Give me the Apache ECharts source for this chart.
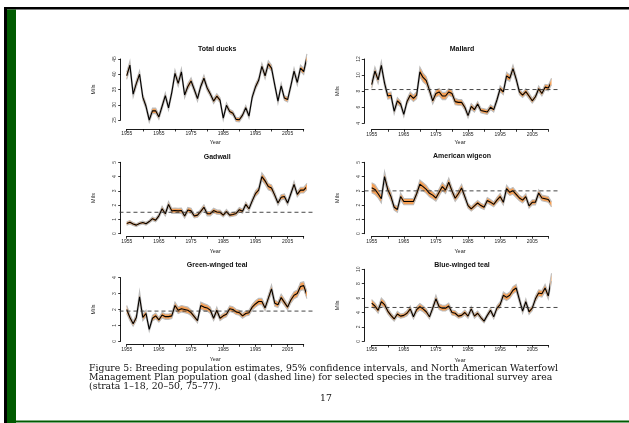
<!DOCTYPE html>
<html><head><meta charset="utf-8">
<script src="https://cdn.jsdelivr.net/npm/echarts@6/dist/echarts.min.js"></script>
<style>html,body{margin:0;padding:0;background:#fff}#c{width:629px;height:423px}</style>
</head><body><div id="c"></div>
<script>
const years = [1955,1956,1957,1958,1959,1960,1961,1962,1963,1964,
 1965,1966,1967,1968,1969,1970,1971,1972,1973,1974,
 1975,1976,1977,1978,1979,1980,1981,1982,1983,1984,
 1985,1986,1987,1988,1989,1990,1991,1992,1993,1994,
 1995,1996,1997,1998,1999,2000,2001,2002,2003,2004,
 2005,2006,2007,2008,2009,2010,2011];

const totalDucks = [39.5,43.0,33.5,37.0,40.0,32.5,29.5,25.0,28.0,28.0,
 26.0,29.5,33.0,29.0,34.0,40.3,37.0,40.8,33.2,36.0,
 37.8,35.0,32.0,36.0,38.7,35.5,33.5,31.2,32.8,31.5,
 25.6,29.8,27.8,27.2,25.2,25.1,26.6,29.0,26.3,32.5,
 35.8,38.0,42.6,39.5,43.4,42.0,36.5,31.2,36.2,32.2,
 31.7,36.2,41.0,37.3,42.0,40.9,45.6];
const totalDucksHW = [1.2,1.3,1.0,1.1,1.1,1.0,0.9,0.8,0.9,0.9,
 0.8,0.9,0.9,0.8,0.9,1.1,1.0,1.1,0.9,1.0,
 1.0,0.9,0.9,0.9,1.0,0.9,0.8,0.8,0.8,0.8,
 0.7,0.8,0.7,0.7,0.7,0.7,0.7,0.8,0.7,0.8,
 0.9,0.9,1.0,1.0,1.0,1.0,0.9,0.8,0.9,0.8,
 0.8,0.9,1.0,0.9,1.0,1.0,1.1];

const mallard = [8.8,10.5,9.4,11.2,9.0,7.4,7.5,5.5,6.8,6.4,
 5.1,6.7,7.5,7.1,7.5,10.4,9.7,9.3,8.1,6.8,
 7.7,7.9,7.4,7.4,7.9,7.7,6.7,6.6,6.6,6.0,
 4.96,6.1,5.7,6.4,5.6,5.5,5.4,6.0,5.7,6.9,
 8.3,7.9,9.9,9.6,10.8,9.5,7.9,7.5,7.95,7.4,
 6.8,7.3,8.3,7.7,8.5,8.4,9.2];
const mallardHW = [0.45,0.5,0.45,0.5,0.45,0.4,0.4,0.35,0.4,0.35,
 0.3,0.35,0.4,0.4,0.45,0.6,0.55,0.5,0.45,0.4,
 0.45,0.45,0.45,0.45,0.4,0.4,0.4,0.35,0.35,0.35,
 0.3,0.35,0.3,0.3,0.3,0.3,0.3,0.3,0.3,0.35,
 0.35,0.35,0.45,0.4,0.45,0.4,0.35,0.3,0.35,0.35,
 0.3,0.3,0.35,0.3,0.35,0.35,0.4];

const gadwall = [0.72,0.80,0.68,0.60,0.72,0.78,0.70,0.85,1.05,0.95,
 1.25,1.75,1.40,2.05,1.60,1.62,1.60,1.62,1.24,1.66,
 1.60,1.24,1.30,1.56,1.85,1.40,1.40,1.62,1.52,1.50,
 1.30,1.55,1.30,1.35,1.42,1.68,1.57,2.05,1.75,2.30,
 2.80,3.05,4.00,3.70,3.30,3.20,2.70,2.15,2.55,2.60,
 2.15,2.80,3.45,2.75,3.05,3.05,3.30];
const gadwallHW = [0.12,0.12,0.1,0.1,0.1,0.1,0.1,0.1,0.12,0.12,
 0.14,0.18,0.16,0.2,0.18,0.18,0.18,0.18,0.15,0.18,
 0.18,0.14,0.14,0.16,0.18,0.15,0.15,0.16,0.15,0.15,
 0.13,0.15,0.13,0.13,0.14,0.15,0.14,0.17,0.15,0.18,
 0.2,0.22,0.26,0.25,0.22,0.22,0.2,0.16,0.18,0.18,
 0.15,0.18,0.22,0.18,0.2,0.2,0.22];

const wigeon = [3.22,3.10,2.80,2.45,4.00,3.10,2.60,1.85,1.70,2.60,
 2.25,2.25,2.25,2.25,2.80,3.46,3.30,3.10,2.83,2.70,
 2.50,2.90,3.30,3.06,3.60,3.00,2.48,2.80,3.20,2.60,
 1.97,1.74,1.95,2.15,1.97,1.86,2.33,2.21,2.05,2.35,
 2.60,2.20,3.15,2.90,3.00,2.75,2.50,2.35,2.60,1.95,
 2.20,2.20,2.85,2.50,2.45,2.40,2.05];
const wigeonHW = [0.35,0.35,0.3,0.3,0.35,0.3,0.3,0.2,0.2,0.25,
 0.22,0.22,0.22,0.22,0.25,0.3,0.28,0.28,0.25,0.25,
 0.22,0.25,0.28,0.25,0.3,0.25,0.22,0.24,0.26,0.22,
 0.18,0.16,0.18,0.18,0.17,0.16,0.2,0.18,0.17,0.2,
 0.22,0.2,0.25,0.22,0.24,0.22,0.2,0.2,0.2,0.17,
 0.18,0.18,0.22,0.2,0.2,0.2,0.18];

const gwTeal = [2.0,1.5,1.1,1.5,2.8,1.5,1.75,0.75,1.45,1.6,
 1.35,1.65,1.55,1.55,1.6,2.25,1.95,2.05,2.0,1.95,
 1.8,1.55,1.3,2.25,2.15,2.1,1.95,1.45,1.95,1.45,
 1.6,1.7,2.05,2.0,1.85,1.8,1.6,1.75,1.8,2.15,
 2.35,2.5,2.5,2.1,2.7,3.3,2.4,2.3,2.75,2.45,
 2.15,2.6,2.9,3.0,3.45,3.5,2.9];
const gwTealHW = [0.25,0.2,0.15,0.2,0.35,0.2,0.2,0.12,0.18,0.18,
 0.15,0.18,0.17,0.17,0.17,0.22,0.2,0.2,0.2,0.2,
 0.18,0.16,0.14,0.22,0.22,0.2,0.2,0.15,0.2,0.15,
 0.15,0.16,0.18,0.18,0.17,0.16,0.15,0.16,0.16,0.18,
 0.2,0.2,0.2,0.18,0.22,0.25,0.2,0.18,0.22,0.2,
 0.18,0.2,0.22,0.22,0.25,0.25,0.22];

const bwTeal = [5.3,4.9,4.3,5.5,5.1,4.2,3.6,3.1,3.8,3.5,
 3.6,3.9,4.5,3.4,4.4,4.8,4.5,4.1,3.4,4.6,
 5.9,4.8,4.6,4.6,4.9,4.0,3.9,3.5,3.6,4.0,
 3.5,4.5,3.5,3.9,3.3,2.8,3.6,4.3,3.4,4.6,
 5.1,6.4,6.1,6.4,7.1,7.4,5.8,4.2,5.5,4.1,
 4.6,5.9,6.7,6.6,7.4,6.3,8.9];
const bwTealHW = [0.5,0.45,0.4,0.5,0.45,0.4,0.35,0.3,0.35,0.3,
 0.3,0.35,0.4,0.3,0.4,0.45,0.4,0.4,0.3,0.4,
 0.5,0.4,0.4,0.4,0.4,0.35,0.35,0.3,0.3,0.35,
 0.3,0.35,0.3,0.3,0.3,0.25,0.3,0.35,0.3,0.35,
 0.4,0.45,0.45,0.45,0.5,0.5,0.45,0.35,0.4,0.35,
 0.35,0.4,0.45,0.45,0.5,0.45,0.55];

const panelTitles = ['Total ducks','Mallard','Gadwall','American wigeon','Green-winged teal','Blue-winged teal'];
const yTicks = [[25,30,35,40,45],[4,6,8,10,12],[0,1,2,3,4,5],[0,1,2,3,4,5],[0,1,2,3,4],[0,2,4,6,8,10]];
const goals = [null, 8.2, 1.5, 3.0, 1.9, 4.7];
const xTicks = [1955,1960,1965,1970,1975,1980,1985,1990,1995,2000,2005,2010];
const xLabelYears = [1955,1965,1975,1985,1995,2005];
const xLimits = [1952.76, 2013.24];
const yAxisName = 'Mils';
const xAxisName = 'Year';
const captionLines = [
 'Figure 5: Breeding population estimates, 95% confidence intervals, and North American Waterfowl',
 'Management Plan population goal (dashed line) for selected species in the traditional survey area',
 '(strata 1\u201318, 20\u201350, 75\u201377).'
];
const pageNumber = '17';

const estimates = [totalDucks, mallard, gadwall, wigeon, gwTeal, bwTeal];
const halfWidths = [totalDucksHW, mallardHW, gadwallHW, wigeonHW, gwTealHW, bwTealHW];

// layout (pixels)
const layout = [
 {left:126.7, top:59,    width:177,   height:61,   yOff:6,   xOff:9,   titleY:45,  nameGapY:10},
 {left:371.7, top:59,    width:176.6, height:64.3, yOff:7.4, xOff:6,   titleY:45,  nameGapY:10},
 {left:126.7, top:162.3, width:177,   height:71.4, yOff:6,   xOff:2.5, titleY:153, nameGapY:12},
 {left:371.7, top:162.3, width:176.6, height:71.4, yOff:7.4, xOff:2.5, titleY:152.5, nameGapY:12},
 {left:126.7, top:277.7, width:177,   height:63.6, yOff:6,   xOff:3,   titleY:260.7, nameGapY:12},
 {left:371.7, top:269.3, width:176.6, height:72,   yOff:7.4, xOff:3.7, titleY:260.7, nameGapY:12}
];

const FONT = 'Liberation Sans';
const ORANGE = '#f4a057';
const GRAY = '#bdbdbd';

const grids = [], xAxes = [], yAxes = [], series = [], titles = [];
layout.forEach((L, i) => {
  grids.push({left:L.left, top:L.top, width:L.width, height:L.height});
  const yt = yTicks[i];
  xAxes.push({
    type:'value', gridIndex:i, min:xTicks[0], max:xTicks[xTicks.length-1], interval:5,
    offset:L.xOff, name:xAxisName, nameLocation:'middle', nameGap:L.nameGapY,
    nameTextStyle:{fontFamily:FONT, fontSize:5.5, color:'#222'},
    axisLine:{show:true, onZero:false, lineStyle:{color:'#000', width:0.9}},
    axisTick:{show:true, length:2.5, lineStyle:{color:'#000', width:0.8}},
    axisLabel:{fontFamily:FONT, fontSize:5, color:'#222', margin:2.5,
      formatter: v => xLabelYears.indexOf(v) >= 0 ? String(v) : ''},
    splitLine:{show:false}
  });
  yAxes.push({
    type:'value', gridIndex:i, min:yt[0], max:yt[yt.length-1], interval:yt[1]-yt[0],
    offset:L.yOff, name:yAxisName, nameLocation:'middle', nameGap:24,
    nameTextStyle:{fontFamily:FONT, fontSize:5.5, color:'#222'},
    axisLine:{show:true, lineStyle:{color:'#000', width:0.9}},
    axisTick:{show:true, length:2.5, lineStyle:{color:'#000', width:0.8}},
    axisLabel:{fontFamily:FONT, fontSize:5, color:'#444', rotate:90, margin:3.5},
    splitLine:{show:false}
  });
  titles.push({text:panelTitles[i], left:L.left + L.width/2 - 3, top:L.titleY - 4.5, textAlign:'center',
    textStyle:{fontFamily:FONT, fontSize:7, fontWeight:'bold', color:'#111'}});
  const est = estimates[i], hw = halfWidths[i], goal = goals[i];
  // confidence band, placed through the axes' scales (api.coord)
  series.push({
    type:'custom', xAxisIndex:i, yAxisIndex:i, clip:false, silent:true, z:2,
    data:[[years[0], est[0]]],
    renderItem:(params, api) => {
      const up = est.map((v,k) => api.coord([years[k], v + hw[k]]));
      const lo = est.map((v,k) => api.coord([years[k], v - hw[k]]));
      const children = [
        {type:'polygon', shape:{points: up.concat(lo.slice().reverse())}, style:{fill:ORANGE}},
        {type:'polyline', shape:{points:up}, style:{stroke:GRAY, lineWidth:1.1, fill:null}},
        {type:'polyline', shape:{points:lo}, style:{stroke:GRAY, lineWidth:1.1, fill:null}}
      ];
      return {type:'group', children};
    }
  });
  series.push({type:'line', xAxisIndex:i, yAxisIndex:i, data:est.map((v,k) => [years[k], v]),
    symbol:'none', clip:false, silent:true, z:4, lineStyle:{color:'#000', width:1.1}});
  if (goal != null) {
    series.push({
      type:'custom', xAxisIndex:i, yAxisIndex:i, clip:false, silent:true, z:5,
      data:[[years[0], goal]],
      renderItem:(params, api) => {
        const a = api.coord([xLimits[0], goal]);
        const b = api.coord([xLimits[1], goal]);
        return {type:'line', shape:{x1:a[0], y1:a[1], x2:b[0], y2:b[1]},
          style:{stroke:'#333', lineWidth:0.9, lineDash:[4,3]}};
      }
    });
  }
});

const SERIF = 'DejaVu Serif';
const CAP_FONT = '9.3px "' + SERIF + '"';
const graphic = [
  {type:'rect', shape:{x:4, y:7, width:625, height:2.5}, style:{fill:'#000'}, silent:true},
  {type:'rect', shape:{x:4, y:7, width:3, height:416}, style:{fill:'#000'}, silent:true},
  {type:'rect', shape:{x:7, y:9.5, width:9, height:414}, style:{fill:'#005a00'}, silent:true},
  {type:'rect', shape:{x:7, y:420.5, width:622, height:2}, style:{fill:'#005a00'}, silent:true},
  {type:'text', left:89, top:364, style:{text:captionLines[0], font:CAP_FONT, fill:'#111'}, silent:true},
  {type:'text', left:89, top:373, style:{text:captionLines[1], font:CAP_FONT, fill:'#111'}, silent:true},
  {type:'text', left:89, top:382, style:{text:captionLines[2], font:CAP_FONT, fill:'#111'}, silent:true},
  {type:'text', left:320, top:394.5, style:{text:pageNumber, font:CAP_FONT, fill:'#111'}, silent:true}
];

const chart = echarts.init(document.getElementById('c'), null, {renderer:'canvas'});
chart.setOption({
  animation:false, backgroundColor:'#fff',
  title:titles, grid:grids, xAxis:xAxes, yAxis:yAxes, series:series, graphic:graphic
});
</script></body></html>
